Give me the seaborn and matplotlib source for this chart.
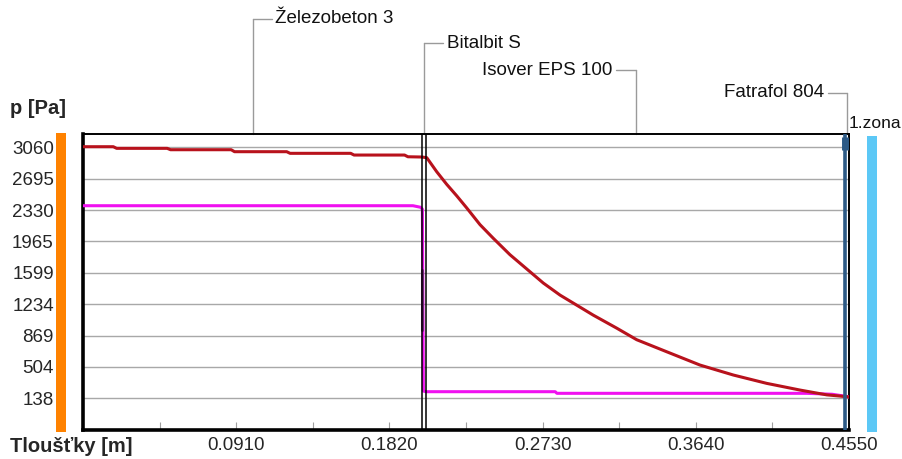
import numpy as np
import pandas as pd
import matplotlib.pyplot as plt
import seaborn as sns

# Layers of the construction (name, boundaries in m)
layer_names = ['Železobeton 3', 'Bitalbit S', 'Isover EPS 100', 'Fatrafol 804']
layer_bounds = [0.0, 0.2014, 0.2038, 0.4526, 0.4550]

# Saturated water vapour pressure (red)
psat_x = [0.000, 0.018, 0.020, 0.050, 0.052, 0.088, 0.090, 0.121, 0.123, 0.159, 0.161,
          0.191, 0.193, 0.2014, 0.2042, 0.2101, 0.2160, 0.2220, 0.2279, 0.2358, 0.2437,
          0.2536, 0.2635, 0.2734, 0.2834, 0.2933, 0.3031, 0.3170, 0.3289, 0.3467, 0.3665,
          0.3863, 0.4061, 0.4259, 0.4418, 0.4536, 0.4550]
psat_p = [3067, 3067, 3048, 3048, 3032, 3032, 3009, 3009, 2990, 2990, 2970,
          2970, 2950, 2947, 2939, 2776, 2630, 2495, 2355, 2160, 2001,
          1810, 1645, 1480, 1339, 1222, 1106, 955, 820, 680, 525,
          409, 312, 234, 178, 157, 153]

# Partial water vapour pressure (magenta)
pd_x = [0.000, 0.196, 0.2005, 0.2016, 0.2022, 0.2038, 0.2805, 0.2815, 0.4300, 0.4450, 0.4536, 0.4550]
pd_p = [2380, 2380, 2362, 2340, 222, 215, 215, 196, 196, 185, 160, 153]

# darker piece on the drop inside Bitalbit S
dark_x = [0.2016, 0.2016]
dark_p = [1631, 932]

# axis ticks
y_ticks = [138, 504, 869, 1234, 1599, 1965, 2330, 2695, 3060]
x_ticks = [0.0910, 0.1820, 0.2730, 0.3640, 0.4550]
x_minor = [0.0455, 0.1365, 0.2275, 0.3185, 0.4095]

sns.set_theme(style='white')
plt.rcParams['font.family'] = ['Liberation Sans', 'DejaVu Sans']

fig = plt.figure(figsize=(9.02, 4.59), dpi=100)
ax = fig.add_axes([83 / 902, 29 / 459, 766 / 902, 296 / 459])

# grid
for v in y_ticks:
    ax.axhline(v, color='#a8a8a8', lw=1.0, zorder=1)

# layer borders
ax.axvline(layer_bounds[1], color='black', lw=1.1, zorder=4)
ax.axvline(layer_bounds[2], color='black', lw=1.1, zorder=4)
ax.axvline(layer_bounds[3], color='#2c5a86', lw=2.6, zorder=4)
ax.plot([layer_bounds[3], layer_bounds[3]], [3029, 3180], color='#2c5a86', lw=5, zorder=4,
        solid_capstyle='butt')

df_sat = pd.DataFrame({'x': psat_x, 'p': psat_p})
df_par = pd.DataFrame({'x': pd_x, 'p': pd_p})
sns.lineplot(data=df_par, x='x', y='p', ax=ax, color='#f010f0', lw=2.2,
             estimator=None, sort=False, zorder=3)
sns.lineplot(data=df_sat, x='x', y='p', ax=ax, color='#b8121c', lw=2.2,
             estimator=None, sort=False, zorder=3)
ax.plot(dark_x, dark_p, color='#7a2080', lw=2.2, zorder=3)

ax.set_xlim(0, 0.455)
ax.set_ylim(-231, 3215)
ax.set_xlabel('')
ax.set_ylabel('')

ax.set_yticks(y_ticks)
ax.set_yticklabels([str(v) for v in y_ticks], fontsize=13.5)
ax.tick_params(axis='y', length=0, pad=21)
ax.set_xticks(x_ticks)
ax.set_xticklabels(['%.4f' % v for v in x_ticks], fontsize=13.5)
ax.set_xticks(x_minor, minor=True)
ax.tick_params(axis='x', which='both', direction='in', length=6, width=0.8,
               color='#a0a0a0', pad=5, bottom=True)

for side in ['top', 'right']:
    ax.spines[side].set_linewidth(1.4)
    ax.spines[side].set_color('black')
for side in ['left', 'bottom']:
    ax.spines[side].set_linewidth(2.6)
    ax.spines[side].set_color('black')

# coloured side bars
ax.add_patch(plt.Rectangle((-0.0352, -0.007), 0.013, 1.01, transform=ax.transAxes,
                           color='#ff8200', clip_on=False, lw=0))
ax.add_patch(plt.Rectangle((1.0235, -0.007), 0.013, 1.0, transform=ax.transAxes,
                           color='#5cc8f6', clip_on=False, lw=0))

# layer labels with leader lines
trans = ax.get_xaxis_transform()
label_y = [1.389, 1.307, 1.216, 1.139]
label_side = [1, 1, -1, -1]
for name, lo, hi, ly, side in zip(layer_names, layer_bounds[:-1], layer_bounds[1:],
                                  label_y, label_side):
    cx = (lo + hi) / 2
    ax.plot([cx, cx], [1.0, ly], color='#9a9a9a', lw=1.0, transform=trans, clip_on=False)
    ax.plot([cx, cx + side * 0.0115], [ly, ly], color='#9a9a9a', lw=1.0,
            transform=trans, clip_on=False)
    ax.text(cx + side * 0.0135, ly, name, transform=trans, fontsize=13.5,
            ha='left' if side > 0 else 'right', va='center', color='#111111')

ax.text(0.4548, 1.037, '1.zona', transform=trans, fontsize=12.5, ha='left', va='center',
        color='#111111')

fig.text(10 / 902, 1 - 108 / 459, 'p [Pa]', fontsize=14.5, fontweight='bold',
         ha='left', va='center')
fig.text(10 / 902, 1 - 447 / 459, 'Tloušťky [m]', fontsize=14.5, fontweight='bold',
         ha='left', va='center')

fig.savefig('out.png', dpi=100)
